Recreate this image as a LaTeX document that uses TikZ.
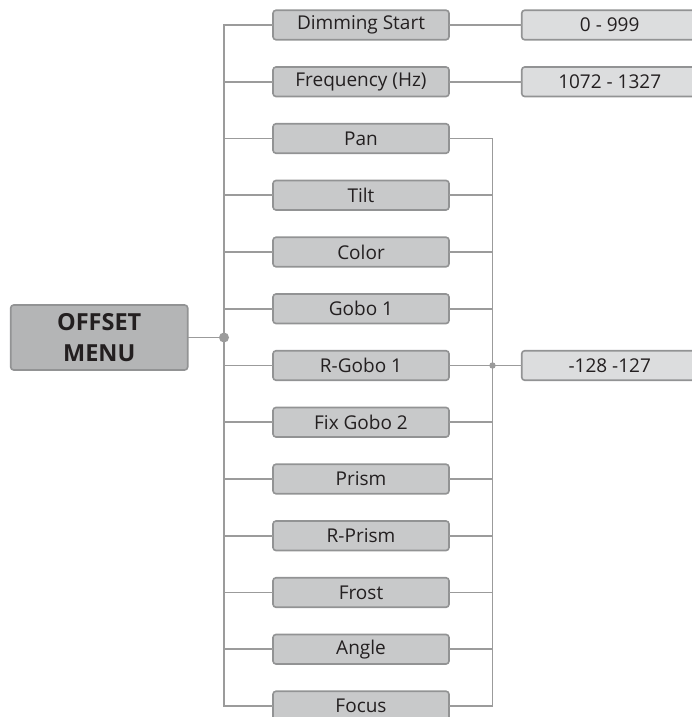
\documentclass[tikz,border=0pt]{standalone}
\usepackage{fontspec}
\setmainfont{Open Sans}
\usepackage{tikz}
\usetikzlibrary{positioning, calc}
\definecolor{mtext}{HTML}{231F20}
\definecolor{mline}{HTML}{9B9B9B}
\definecolor{mborder}{HTML}{929394}
\definecolor{mmenu}{HTML}{B4B5B6}
\definecolor{mitem}{HTML}{C8C9CA}
\definecolor{mval}{HTML}{DCDDDE}
\tikzset{
  itembox/.style={rectangle, rounded corners=3pt, draw=mborder, line width=1.6pt, fill=mitem, text=mtext,
              minimum height=29.5pt, minimum width=176pt, inner sep=0pt, outer sep=0pt, align=center,
              font=\fontsize{19}{22}\selectfont},
  valbox/.style={itembox, fill=mval},
  menubox/.style={itembox, fill=mmenu, minimum height=65pt, minimum width=177pt,
              font=\fontsize{23.5}{31}\selectfont\bfseries},
  link/.style={draw=mline, line width=1.6pt},
  hubdot/.style={fill=mline}
}

\begin{document}
\begin{tikzpicture}[node distance=27.25pt]
  \clip (0pt,0pt) rectangle (692pt,-717pt);
  \node[menubox] (menu) at (99.2pt,-337.5pt) {OFFSET\\MENU};
  \node[itembox] (dim) at (361pt,-25pt) {Dimming Start};
  \node[itembox, below=of dim] (freq) {Frequency (Hz)};
  \node[itembox, below=of freq] (pan) {Pan};
  \node[itembox, below=of pan] (tilt) {Tilt};
  \node[itembox, below=of tilt] (color) {Color};
  \node[itembox, below=of color] (gobo) {Gobo 1};
  \node[itembox, below=of gobo] (rgobo) {R-Gobo 1};
  \node[itembox, below=of rgobo] (fixgobo) {Fix Gobo 2};
  \node[itembox, below=of fixgobo] (prism) {Prism};
  \node[itembox, below=of prism] (rprism) {R-Prism};
  \node[itembox, below=of rprism] (frost) {Frost};
  \node[itembox, below=of frost] (angle) {Angle};
  \node[itembox, below=of angle] (focus) {Focus};
  \node[valbox, right=72.7pt of dim] (dimval) {0 - 999};
  \node[valbox, right=72.7pt of freq] (freqval) {1072 - 1327};
  \node[valbox, right=72.7pt of rgobo] (rgoboval) {-128 -127};
  \coordinate (hub) at (224pt,-337.5pt);
  \coordinate (rhub) at ($(rgobo.east)+(43.5pt,0)$);
  % left tree
  \draw[link] (dim.west) -- (dim.west -| hub) -- (focus.west -| hub) -- (focus.west);
  \draw[link] (freq.west) -- (freq.west -| hub); \draw[link] (pan.west) -- (pan.west -| hub);
  \draw[link] (tilt.west) -- (tilt.west -| hub); \draw[link] (color.west) -- (color.west -| hub);
  \draw[link] (gobo.west) -- (gobo.west -| hub); \draw[link] (rgobo.west) -- (rgobo.west -| hub);
  \draw[link] (fixgobo.west) -- (fixgobo.west -| hub); \draw[link] (prism.west) -- (prism.west -| hub);
  \draw[link] (rprism.west) -- (rprism.west -| hub); \draw[link] (frost.west) -- (frost.west -| hub);
  \draw[link] (angle.west) -- (angle.west -| hub);
  \draw[link] (menu.east) -- (hub);
  \fill[hubdot] (hub) circle (5pt);
  % right tree
  \draw[link] (pan.east) -- (pan.east -| rhub) -- (focus.east -| rhub) -- (focus.east);
  \draw[link] (tilt.east) -- (tilt.east -| rhub); \draw[link] (color.east) -- (color.east -| rhub);
  \draw[link] (gobo.east) -- (gobo.east -| rhub); \draw[link] (rgobo.east) -- (rhub);
  \draw[link] (fixgobo.east) -- (fixgobo.east -| rhub); \draw[link] (prism.east) -- (prism.east -| rhub);
  \draw[link] (rprism.east) -- (rprism.east -| rhub); \draw[link] (frost.east) -- (frost.east -| rhub);
  \draw[link] (angle.east) -- (angle.east -| rhub);
  \draw[link] (rhub) -- (rgoboval.west);
  \fill[hubdot] (rhub) circle (3.2pt);
  % values
  \draw[link] (dim.east) -- (dimval.west);
  \draw[link] (freq.east) -- (freqval.west);
\end{tikzpicture}
\end{document}
